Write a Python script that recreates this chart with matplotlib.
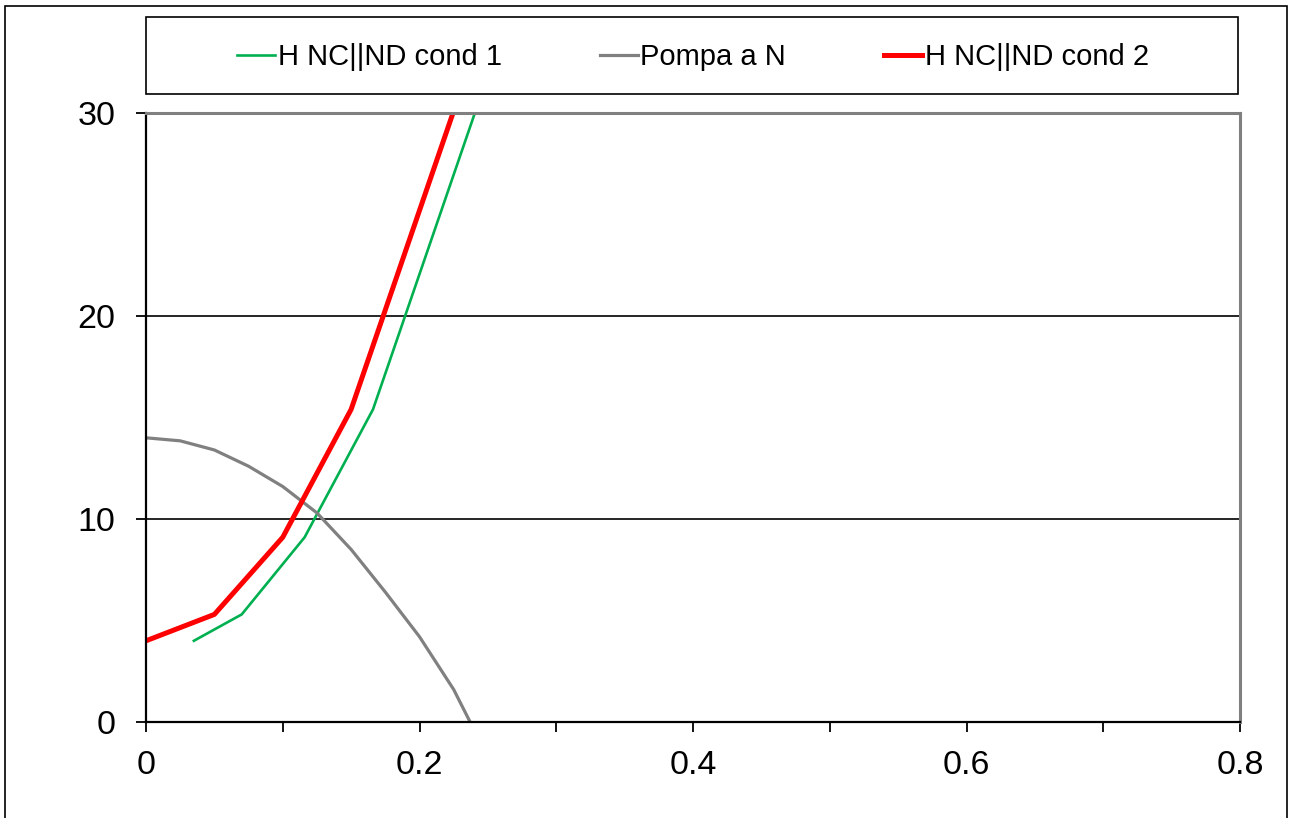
import matplotlib
matplotlib.use('Agg')
import matplotlib.pyplot as plt
from matplotlib.patches import Rectangle
from matplotlib.ticker import MultipleLocator

# system curves (Q, H)
q_cond2 = [0.0, 0.05, 0.10, 0.15, 0.20, 0.25]
h_cond2 = [4.0, 5.3, 9.1, 15.4, 25.2, 35.0]
q_cond1 = [0.035, 0.070, 0.116, 0.166, 0.216, 0.266]
h_cond1 = [4.0, 5.3, 9.1, 15.4, 25.2, 35.0]

# pump curve
q_pump = [0.0, 0.025, 0.05, 0.075, 0.10, 0.125, 0.15, 0.175, 0.20, 0.225, 0.237]
h_pump = [14.0, 13.85, 13.4, 12.6, 11.6, 10.3, 8.5, 6.4, 4.2, 1.6, 0.0]

labels = ['H NC||ND cond 1', 'Pompa a N', 'H NC||ND cond 2']

plt.rcParams['font.family'] = ['Liberation Sans', 'DejaVu Sans']

W, H = 1293, 818
fig = plt.figure(figsize=(W / 100, H / 100), dpi=100)
ax = fig.add_axes([146 / W, 1 - 722 / H, (1240 - 146) / W, (722 - 113) / H])

l1, = ax.plot(q_cond1, h_cond1, color='#00B050', lw=1.9, label=labels[0])
l2, = ax.plot(q_pump, h_pump, color='#808080', lw=2.3, label=labels[1])
l3, = ax.plot(q_cond2, h_cond2, color='#FF0000', lw=3.6, label=labels[2])

ax.set_xlim(0, 0.8)
ax.set_ylim(0, 30)
ax.xaxis.set_major_locator(MultipleLocator(0.2))
ax.xaxis.set_minor_locator(MultipleLocator(0.1))
ax.yaxis.set_major_locator(MultipleLocator(10))
ax.xaxis.set_major_formatter(plt.FuncFormatter(lambda v, p: '0' if v == 0 else f'{v:.1f}'))

ax.tick_params(axis='both', which='both', direction='out', length=7, width=1.3,
               color='black', labelsize=24.5)
ax.tick_params(axis='x', pad=13)
ax.tick_params(axis='y', pad=15)
ax.tick_params(top=False, right=False)

ax.grid(axis='y', color='black', lw=1.2)
for s in ['left', 'bottom']:
    ax.spines[s].set_color('black')
    ax.spines[s].set_linewidth(1.6)
for s in ['top', 'right']:
    ax.spines[s].set_color('#808080')
    ax.spines[s].set_linewidth(2.2)

# legend box and outer chart border
fig.patches.append(Rectangle((146 / W, 1 - 94 / H), (1238 - 146) / W, (94 - 17) / H,
                             transform=fig.transFigure, fill=False, ec='black', lw=1.2))
fig.patches.append(Rectangle((5 / W, -0.05), (1287 - 5) / W, 1 - 6 / H + 0.05,
                             transform=fig.transFigure, fill=False, ec='black', lw=1.2))

fig.legend(handles=[l1, l2, l3], loc='center', bbox_to_anchor=(693 / W, 1 - 57 / H),
           ncol=3, frameon=False, fontsize=21, handlelength=1.3, handletextpad=0.1,
           columnspacing=3.35, borderpad=0)

fig.savefig('out.png', dpi=100)
